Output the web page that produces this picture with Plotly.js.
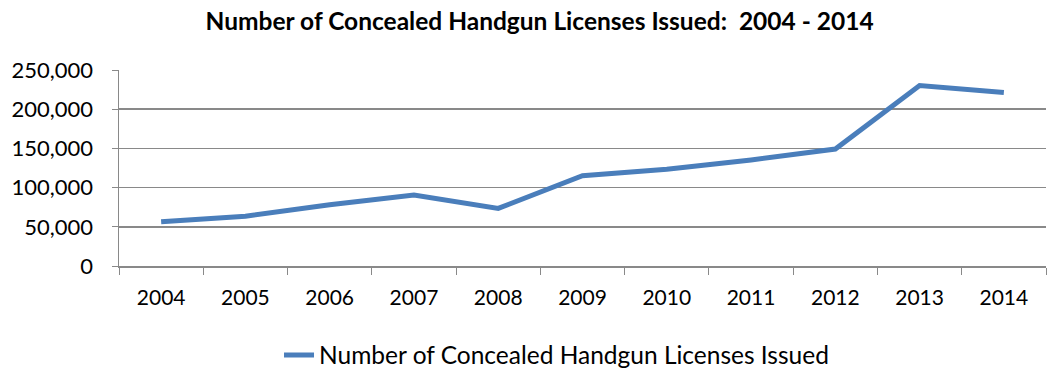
<!DOCTYPE html>
<html>
<head>
<meta charset="utf-8">
<script src="https://cdn.plot.ly/plotly-3.0.1.min.js"></script>
<style>html,body{margin:0;padding:0;background:#fff;}#chart{width:1056px;height:369px;}</style>
</head>
<body>
<div id="chart"></div>
<script>
const years = ['2004','2005','2006','2007','2008','2009','2010','2011','2012','2013','2014'];
const licenses = [56300, 63500, 78000, 90400, 73400, 115100, 123300, 135200, 149200, 230200, 221200];
const seriesName = 'Number of Concealed Handgun Licenses Issued';
const chartTitle = 'Number of Concealed Handgun Licenses Issued:  2004 - 2014';
const yTicks = [0, 50000, 100000, 150000, 200000, 250000];
const yTickText = ['0', '50,000', '100,000', '150,000', '200,000', '250,000'];

const fontFam = 'Lato, "Open Sans", sans-serif';
Plotly.newPlot('chart', [{
  x: years, y: licenses, type: 'scatter', mode: 'lines', name: seriesName,
  line: {color: '#4a7ebb', width: 5}
}], {
  width: 1056, height: 369,
  margin: {l: 119, r: 10, t: 70, b: 103},
  paper_bgcolor: '#fff', plot_bgcolor: '#fff',
  title: {text: '<b>' + chartTitle + '</b>', x: 0.511, xref: 'container', xanchor: 'center', y: 0.943, yref: 'container', yanchor: 'middle',
          font: {family: fontFam, size: 24.5, color: '#000'}},
  xaxis: {type: 'category', tickson: 'boundaries', ticks: 'outside', ticklen: 7, tickcolor: '#898989',
          showgrid: false, showline: true, linecolor: '#898989', linewidth: 1.5, zeroline: false, automargin: false,
          ticklabelstandoff: 12,
          tickfont: {family: fontFam, size: 21, color: '#000'}, range: [-0.5, 10.5]},
  yaxis: {range: [0, 250000], tickvals: yTicks, ticktext: yTickText, ticks: 'outside', ticklen: 6, tickcolor: '#898989',
          showgrid: true, gridcolor: '#898989', gridwidth: 1.5, showline: true, linecolor: '#898989', linewidth: 1.5,
          zeroline: false, automargin: false, ticklabelstandoff: 14,
          tickfont: {family: fontFam, size: 22, color: '#000'}},
  showlegend: true,
  legend: {orientation: 'h', x: 0.527, xref: 'container', xanchor: 'center', y: 0.038, yref: 'container', yanchor: 'middle',
           font: {family: fontFam, size: 24.5, color: '#000'}}
}, {displayModeBar: false, staticPlot: true});
</script>
</body>
</html>
